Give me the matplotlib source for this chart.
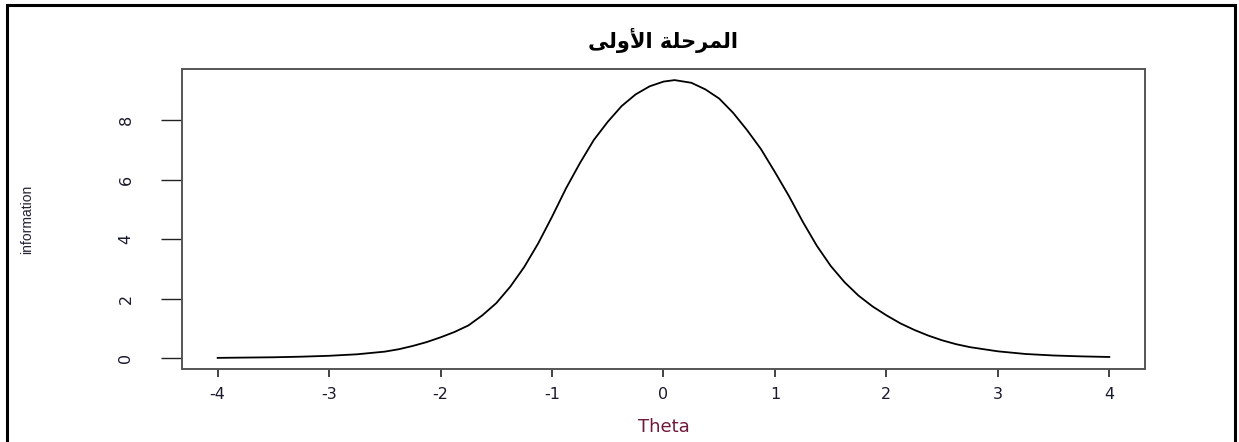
#!/usr/bin/env python3
"""Curva d'informazione del test (prima fase)."""

import matplotlib
matplotlib.use("Agg")
import matplotlib.pyplot as plt
from matplotlib.patches import Rectangle

# ── Dati ──────────────────────────────────────────────────────────────────────

theta = [-4, -3.75, -3.5, -3.25, -3, -2.75, -2.5, -2.375, -2.25, -2.125, -2,
         -1.875, -1.75, -1.625, -1.5, -1.375, -1.25, -1.125, -1, -0.875,
         -0.75, -0.625, -0.5, -0.375, -0.25, -0.125, 0, 0.1, 0.25, 0.375,
         0.5, 0.625, 0.75, 0.875, 1, 1.125, 1.25, 1.375, 1.5, 1.625, 1.75,
         1.875, 2, 2.125, 2.25, 2.375, 2.5, 2.625, 2.75, 3, 3.25, 3.5, 3.75, 4]
information = [0.01, 0.02, 0.03, 0.05, 0.08, 0.13, 0.22, 0.30, 0.41, 0.54,
               0.70, 0.88, 1.10, 1.44, 1.85, 2.40, 3.06, 3.85, 4.75, 5.70,
               6.55, 7.33, 7.94, 8.47, 8.86, 9.13, 9.29, 9.34, 9.25, 9.03,
               8.72, 8.24, 7.66, 7.02, 6.25, 5.45, 4.58, 3.78, 3.10, 2.55,
               2.10, 1.74, 1.44, 1.17, 0.95, 0.76, 0.60, 0.47, 0.37, 0.23,
               0.14, 0.09, 0.06, 0.04]

x_ticks = [-4, -3, -2, -1, 0, 1, 2, 3, 4]
y_ticks = [0, 2, 4, 6, 8]

# 'المرحلة الأولى' in forme di presentazione, già in ordine visivo
# (matplotlib non fa lo shaping dell'arabo)
TITOLO = "\ufef0\ufedf\ufeed\ufef7\ufe8d \ufe94\ufee0\ufea3\ufeae\ufee4\ufedf\ufe8d"


def r_lim(vals, frac=0.04):
    lo, hi = min(vals), max(vals)
    pad = (hi - lo) * frac
    return lo - pad, hi + pad


# ── Figura ────────────────────────────────────────────────────────────────────

fig = plt.figure(figsize=(12.39, 4.42), dpi=100)
ax = fig.add_axes([0.1469, 0.1652, 0.7772, 0.6787])

ax.plot(theta, information, color="black", lw=1.3)

ax.set_xlim(*r_lim(theta))
ax.set_ylim(*r_lim(information))
ax.set_xticks(x_ticks)
ax.set_yticks(y_ticks)
ax.set_xticklabels([str(t) for t in x_ticks], family="DejaVu Sans",
                   fontsize=11.5, color="#1a1a2e")
ax.set_yticklabels([str(t) for t in y_ticks], family="DejaVu Sans",
                   fontsize=11.5, color="#1a1a2e", rotation=90, va="center")
ax.tick_params(axis="x", length=6, width=1.2, pad=7, color="#222222")
ax.tick_params(axis="y", length=15, width=1.0, pad=20, color="#222222")

for s in ax.spines.values():
    s.set_color("#555555")
    s.set_linewidth(1.4)

ax.set_xlabel("Theta", family="DejaVu Sans", fontsize=13, color="#6e1a3a")
ax.xaxis.set_label_coords(0.5, -0.165)
ax.set_ylabel("information", family="Liberation Sans", fontsize=10,
              color="#222233")
ax.yaxis.set_label_coords(-0.154, 0.5)

fig.text(0.5355, 1 - 40 / 442, TITOLO, family=["DejaVu Sans"],
         fontweight="bold", fontsize=15, ha="center", va="center")

# cornice esterna
fig.patches.append(Rectangle((7 / 1239, -0.05), 1228 / 1239, 1.05 - 5 / 442,
                             transform=fig.transFigure, fill=False,
                             edgecolor="black", lw=2.2))

fig.savefig("out.png", dpi=100)
